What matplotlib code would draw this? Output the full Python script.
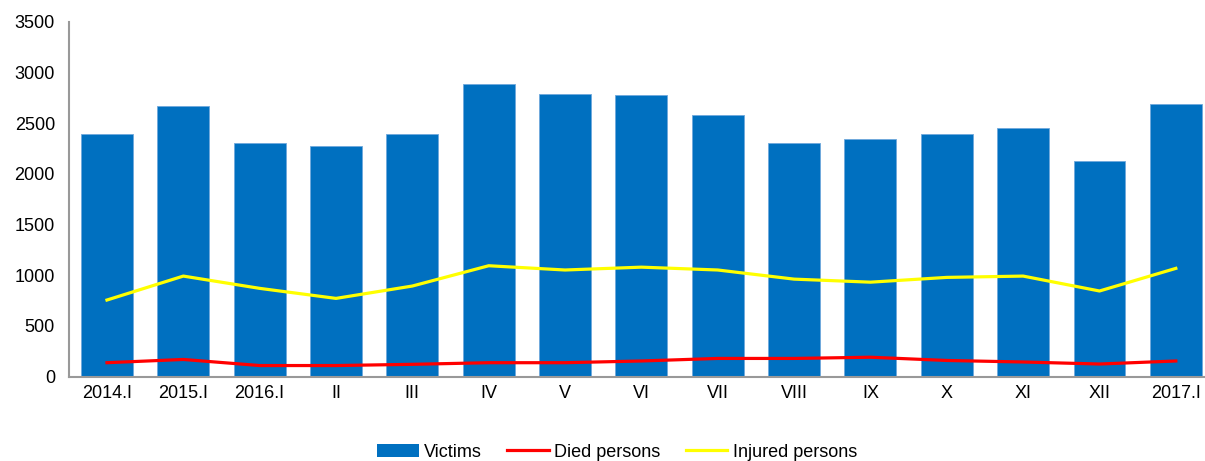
import numpy as np
import matplotlib.pyplot as plt
from matplotlib.patches import Patch
from matplotlib.lines import Line2D

plt.rcParams['font.family'] = ['Liberation Sans', 'DejaVu Sans']

# data
periods = ['2014.I', '2015.I', '2016.I', 'II', 'III', 'IV', 'V', 'VI', 'VII',
           'VIII', 'IX', 'X', 'XI', 'XII', '2017.I']
victims = [2390, 2670, 2300, 2275, 2390, 2890, 2790, 2775, 2585,
           2300, 2345, 2390, 2450, 2125, 2685]
died = [138, 170, 110, 110, 122, 138, 138, 155, 180,
        180, 192, 160, 145, 125, 155]
injured = [756, 992, 871, 772, 894, 1094, 1052, 1080, 1052,
           962, 932, 979, 992, 845, 1068]
yticks = [0, 500, 1000, 1500, 2000, 2500, 3000, 3500]

W, H = 1205, 461
fig = plt.figure(figsize=(W / 100, H / 100), dpi=100)
left, right = 68.8, 1214.0
top, bottom = 21.7, 376.7
ax = fig.add_axes([left / W, 1 - bottom / H, (right - left) / W, (bottom - top) / H])

x = np.arange(len(periods))
ax.bar(x, victims, width=0.68, color='#0070C0', edgecolor='#6fa8dc', linewidth=0.6, zorder=2)
ax.plot(x, died, color='#FF0000', linewidth=2.3, zorder=3)
ax.plot(x, injured, color='#FFFF00', linewidth=2.3, zorder=4)

ax.set_xlim(-0.5, len(periods) - 0.5)
ax.set_ylim(0, 3500)
ax.set_yticks(yticks)
ax.set_xticks(x)
ax.set_xticklabels(periods)
ax.tick_params(axis='both', length=0, labelsize=13)
ax.tick_params(axis='x', pad=6)
ax.tick_params(axis='y', pad=10)

for side in ['top', 'right']:
    ax.spines[side].set_visible(False)
for side in ['left', 'bottom']:
    ax.spines[side].set_color('#999999')
    ax.spines[side].set_linewidth(1.5)

handles = [Patch(facecolor='#0070C0', edgecolor='none'),
           Line2D([], [], color='#FF0000', linewidth=2.3),
           Line2D([], [], color='#FFFF00', linewidth=2.3)]
fig.legend(handles, ['Victims', 'Died persons', 'Injured persons'],
           loc='center', bbox_to_anchor=(617 / W, 1 - 452 / H), ncol=3,
           frameon=False, fontsize=13, handlelength=2.3, handletextpad=0.3,
           columnspacing=1.4)

fig.savefig('out.png', dpi=100)
